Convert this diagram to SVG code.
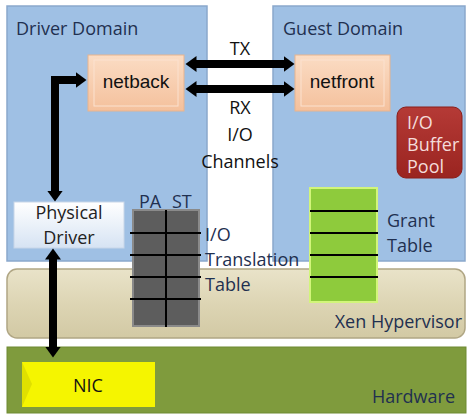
<svg xmlns="http://www.w3.org/2000/svg" width="471" height="415" viewBox="0 0 471 415">
<defs>
<linearGradient id="gPeach" x1="0" y1="0" x2="0" y2="1">
<stop offset="0" stop-color="#fbdcc4"/><stop offset="1" stop-color="#f4c09c"/>
</linearGradient>
<linearGradient id="gPhys" x1="0" y1="0" x2="0" y2="1">
<stop offset="0" stop-color="#ffffff"/><stop offset="1" stop-color="#d6e3f3"/>
</linearGradient>
<linearGradient id="gXen" x1="0" y1="0" x2="0" y2="1">
<stop offset="0" stop-color="#e9e3c9"/><stop offset="0.5" stop-color="#ddd5b4"/><stop offset="1" stop-color="#d2c9a4"/>
</linearGradient>
<linearGradient id="gRed" x1="0" y1="0" x2="0" y2="1">
<stop offset="0" stop-color="#b53a36"/><stop offset="1" stop-color="#9a2420"/>
</linearGradient>
<marker id="ah" markerUnits="userSpaceOnUse" markerWidth="12" markerHeight="18" refX="0.5" refY="9" orient="auto-start-reverse">
<path d="M0,1 L11,9 L0,17 z" fill="#000"/>
</marker>
<style>
text{font-family:"Open Sans","Noto Sans","Liberation Sans",sans-serif;font-size:18px}
.ar{font-family:"Liberation Sans",Arial,sans-serif;font-size:19px}
.dom{fill:#9fc0e4;stroke:#8aa8cc;stroke-width:1.5}
.lbl{fill:#1f3050}
.blk{fill:#111}
.conn{stroke:#000;stroke-width:8;fill:none;marker-start:url(#ah);marker-end:url(#ah)}
.tl{stroke:#000;stroke-width:2}
</style>
</defs>

<g id="driver-domain">
<rect class="dom" x="7" y="6" width="200" height="255"/>
<text class="lbl" x="16" y="35">Driver Domain</text>
</g>
<g id="guest-domain">
<rect class="dom" x="273" y="6" width="192" height="255"/>
<text class="lbl" x="283" y="35">Guest Domain</text>
</g>
<g id="xen-hypervisor">
<rect x="7" y="269" width="458" height="69" rx="10" fill="url(#gXen)" stroke="#b0a684" stroke-width="1.5"/>
<text class="lbl" x="462" y="328" text-anchor="end">Xen Hypervisor</text>
</g>
<g id="hardware">
<rect x="7" y="347" width="459" height="66" fill="#7f9b3d" stroke="#6f8a32" stroke-width="1"/>
<text class="lbl" x="455" y="403" text-anchor="end">Hardware</text>
</g>
<g id="nic">
<rect x="22" y="362" width="133" height="45" fill="#f5f500"/>
<path d="M22,362 L32,384 L22,407 z" fill="#e0e000"/>
<text class="blk" x="88" y="392" text-anchor="middle">NIC</text>
</g>
<g id="netback">
<rect x="88" y="55" width="96" height="56" fill="url(#gPeach)" stroke="#e8b38e" stroke-width="1"/>
<rect x="94" y="60" width="84" height="46" fill="none" stroke="#fbe1cf" stroke-width="1"/>
<text class="blk ar" x="136" y="88" text-anchor="middle">netback</text>
</g>
<g id="netfront">
<rect x="295" y="55" width="95" height="56" fill="url(#gPeach)" stroke="#e8b38e" stroke-width="1"/>
<rect x="301" y="60" width="83" height="46" fill="none" stroke="#fbe1cf" stroke-width="1"/>
<text class="blk ar" x="342" y="88" text-anchor="middle">netfront</text>
</g>
<g id="io-buffer-pool">
<rect x="397" y="107" width="65" height="71" rx="9" fill="url(#gRed)" stroke="#8a1e1a" stroke-width="1"/>
<text x="407" y="129" fill="#f4dcda" font-size="16">I/O</text>
<text x="407" y="151" fill="#f4dcda" font-size="16">Buffer</text>
<text x="407" y="173" fill="#f4dcda" font-size="16">Pool</text>
</g>
<g id="physical-driver">
<rect x="14" y="202" width="110" height="46" fill="url(#gPhys)" stroke="#c8d6e8" stroke-width="1"/>
<text fill="#222" x="69" y="219" text-anchor="middle">Physical</text>
<text fill="#222" x="69" y="244" text-anchor="middle">Driver</text>
</g>
<g id="io-translation-table">
<rect x="133" y="210" width="66" height="116" fill="#5d5d5d" stroke="#8a8a8a" stroke-width="2"/>
<line class="tl" x1="166" y1="210" x2="166" y2="327"/>
<line class="tl" x1="130" y1="233" x2="201" y2="233"/>
<line class="tl" x1="130" y1="255" x2="201" y2="255"/>
<line class="tl" x1="130" y1="277" x2="201" y2="277"/>
<line class="tl" x1="130" y1="299" x2="201" y2="299"/>
<text class="lbl" x="139" y="208">PA</text>
<text class="lbl" x="172" y="208">ST</text>
<text class="lbl" x="205" y="241">I/O</text>
<text class="lbl" x="205" y="266">Translation</text>
<text class="lbl" x="205" y="291">Table</text>
</g>
<g id="grant-table">
<rect x="310" y="188" width="67" height="114" fill="#8ecb3c" stroke="#d2f57a" stroke-width="2"/>
<line class="tl" x1="310" y1="211" x2="378" y2="211"/>
<line class="tl" x1="310" y1="233" x2="378" y2="233"/>
<line class="tl" x1="310" y1="255" x2="378" y2="255"/>
<line class="tl" x1="310" y1="277" x2="378" y2="277"/>
<text class="lbl" x="387" y="227">Grant</text>
<text class="lbl" x="387" y="252">Table</text>
</g>
<g id="io-channels-label">
<text class="blk" x="240" y="55" text-anchor="middle">TX</text>
<text class="blk" x="240" y="114" text-anchor="middle">RX</text>
<text class="blk" x="240" y="141" text-anchor="middle">I/O</text>
<text class="blk" x="240" y="168" text-anchor="middle">Channels</text>
</g>

<g id="connectors">
<line class="conn" x1="196" y1="64" x2="284" y2="64"/>
<line class="conn" x1="196" y1="89" x2="284" y2="89"/>
<path class="conn" d="M76,80 H55 V191" stroke-linejoin="miter"/>
<line class="conn" x1="53" y1="259" x2="53" y2="347"/>
</g>
</svg>
